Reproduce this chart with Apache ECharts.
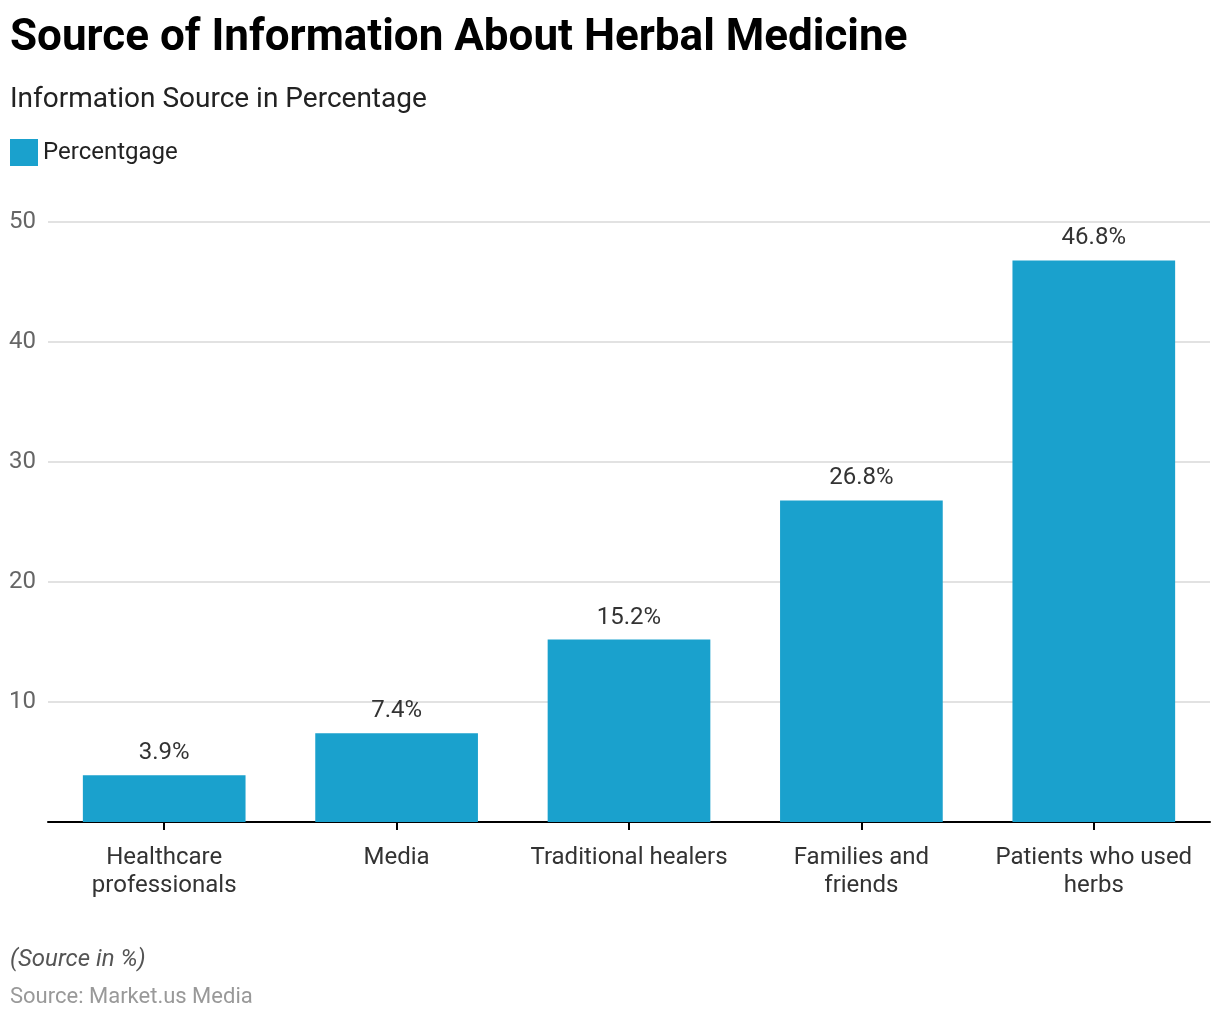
<!DOCTYPE html>
<html><head><meta charset="utf-8">
<script src="https://cdn.jsdelivr.net/npm/echarts@6/dist/echarts.min.js"></script>
<style>html,body{margin:0;padding:0;background:#fff}#c{width:1220px;height:1020px}</style>
</head><body><div id="c"></div>
<script>
const categories = ["Healthcare\nprofessionals", "Media", "Traditional healers", "Families and\nfriends", "Patients who used\nherbs"];
const values = [3.9, 7.4, 15.2, 26.8, 46.8];
const seriesName = "Percentgage";
const yTicks = [0, 10, 20, 30, 40, 50];

const chart = echarts.init(document.getElementById('c'), null, {renderer: 'canvas'});
chart.setOption({
  backgroundColor: '#fff',
  textStyle: {fontFamily: 'Roboto'},
  title: [
    {text: 'Source of Information About Herbal Medicine', left: 5, top: 12,
     textStyle: {fontFamily: 'Roboto', fontSize: 44, fontWeight: 'bold', color: '#000'}},
    {text: 'Information Source in Percentage', left: 5, top: 81,
     textStyle: {fontFamily: 'Roboto', fontSize: 28, fontWeight: 'normal', color: '#222'}},
    {text: '(Source in %)', left: 5, top: 943,
     textStyle: {fontFamily: 'Roboto', fontSize: 24, fontStyle: 'italic', fontWeight: 'normal', color: '#555'}},
    {text: 'Source: Market.us Media', left: 5, top: 981,
     textStyle: {fontFamily: 'Roboto', fontSize: 22, fontWeight: 'normal', color: '#999'}}
  ],
  legend: {
    left: 5, top: 134, itemWidth: 28, itemHeight: 27, itemGap: 10,
    icon: 'rect',
    textStyle: {fontFamily: 'Roboto', fontSize: 24, color: '#222'},
    data: [seriesName]
  },
  grid: {left: 48, right: 10, top: 222, bottom: 198, containLabel: false},
  xAxis: {
    type: 'category', data: categories,
    axisLine: {show: true, lineStyle: {color: '#000', width: 2}},
    axisTick: {show: true, alignWithLabel: true, length: 8, lineStyle: {color: '#000', width: 2}},
    axisLabel: {fontFamily: 'Roboto', fontSize: 24, color: '#333', margin: 22, lineHeight: 28, interval: 0}
  },
  yAxis: {
    type: 'value', min: 0, max: 50, interval: 10,
    axisLine: {show: false}, axisTick: {show: false},
    splitLine: {lineStyle: {color: '#d9d9d9', width: 1.5}},
    axisLabel: {fontFamily: 'Roboto', fontSize: 24, color: '#666', margin: 12,
      formatter: v => (v === 0 ? '' : String(v))}
  },
  series: [{
    name: seriesName, type: 'bar', data: values,
    barCategoryGap: '30%',
    itemStyle: {color: '#1aa1cd'},
    label: {show: true, position: 'top', distance: 10, fontFamily: 'Roboto', fontSize: 24, color: '#333',
      formatter: p => p.value + '%'}
  }]
});
</script></body></html>
